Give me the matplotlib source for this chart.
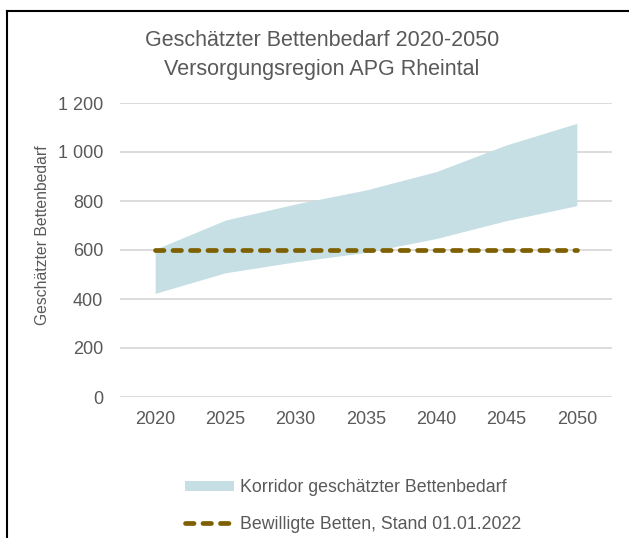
import matplotlib
matplotlib.use("Agg")
import matplotlib.pyplot as plt
from matplotlib.patches import Patch
from matplotlib.lines import Line2D

plt.rcParams['font.family'] = ['Liberation Sans', 'DejaVu Sans']

years = [2020, 2025, 2030, 2035, 2040, 2045, 2050]
lower = [423, 507, 552, 590, 647, 720, 781]
upper = [603, 722, 788, 845, 920, 1029, 1117]
approved = [600, 600, 600, 600, 600, 600, 600]
yticks = [0, 200, 400, 600, 800, 1000, 1200]
ytick_labels = ['0', '200', '400', '600', '800', '1 000', '1 200']

title = "Geschätzter Bettenbedarf 2020-2050\nVersorgungsregion APG Rheintal"
ylabel = "Geschätzter Bettenbedarf"
label_band = "Korridor geschätzter Bettenbedarf"
label_line = "Bewilligte Betten, Stand 01.01.2022"

text_color = '#595959'
band_color = '#C5DFE4'
line_color = '#7F6000'

W, H = 629, 538
fig = plt.figure(figsize=(W / 100, H / 100), dpi=100)
ax = fig.add_axes([120 / W, 1 - 397 / H, (612 - 120) / W, (397 - 103) / H])

ax.fill_between(years, lower, upper, color=band_color, linewidth=0, zorder=2)
ax.plot(years, approved, color=line_color, linewidth=3.4, dashes=(1.8, 1.9),
        dash_capstyle='round', zorder=3)

ax.set_xlim(2017.5, 2052.5)
ax.set_ylim(0, 1200)
ax.set_xticks(years)
ax.set_xticklabels([str(y) for y in years])
ax.set_yticks(yticks)
ax.set_yticklabels(ytick_labels)
ax.tick_params(axis='both', length=0, labelsize=13, labelcolor=text_color)
ax.tick_params(axis='y', pad=12)
ax.tick_params(axis='x', pad=10)
ax.grid(axis='y', color='#D9D9D9', linewidth=1.3, zorder=0)
ax.set_axisbelow(True)
for s in ax.spines.values():
    s.set_visible(False)

fig.text(322 / W, 1 - 55 / H, title, ha='center', va='center', fontsize=15.5,
         color=text_color, linespacing=1.45)
fig.text(43 / W, 1 - 235 / H, ylabel, ha='center', va='center', rotation=90,
         fontsize=11.3, color=text_color)

handles = [Patch(facecolor=band_color, edgecolor='none'),
           Line2D([0], [0], color=line_color, linewidth=3.4, dashes=(1.8, 1.9),
                  dash_capstyle='round')]
fig.legend(handles, [label_band, label_line], loc='center left',
           bbox_to_anchor=(169 / W, 1 - 506 / H), frameon=False, fontsize=12.8,
           labelcolor=text_color, handlelength=2.75, handleheight=0.56,
           handletextpad=0.34, labelspacing=1.09)

# border (top and left visible)
fig.add_artist(Line2D([7 / W, 1], [1 - 11 / H, 1 - 11 / H], color='black',
                      linewidth=1.5, transform=fig.transFigure))
fig.add_artist(Line2D([7 / W, 7 / W], [0, 1 - 11 / H], color='black',
                      linewidth=1.5, transform=fig.transFigure))

fig.savefig('out.png', dpi=100)
